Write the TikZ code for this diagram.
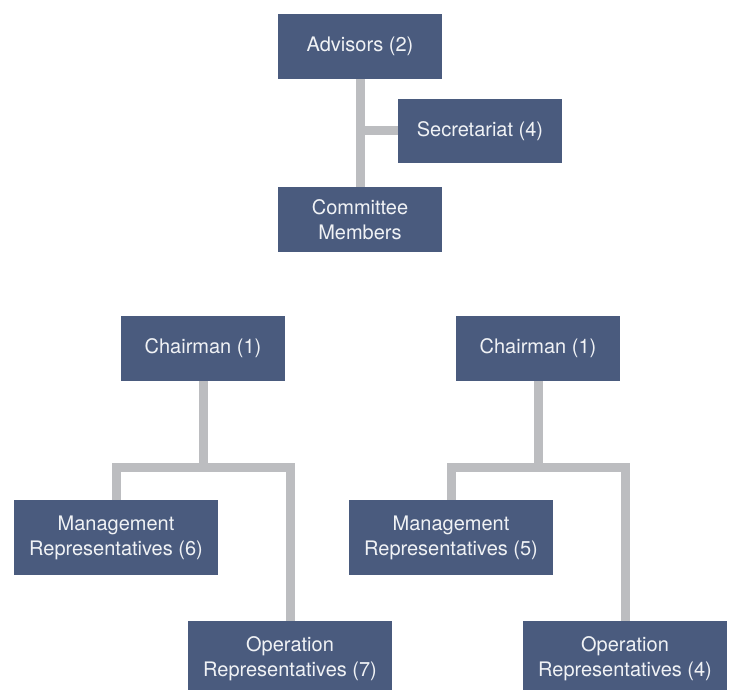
\documentclass[tikz,border=0pt]{standalone}
\usepackage{fontspec}
\setmainfont{TeX Gyre Heros}
\definecolor{boxblue}{RGB}{74,91,126}
\definecolor{linkgray}{RGB}{188,189,192}
\definecolor{boxtext}{RGB}{240,242,245}
\pgfdeclarelayer{back}
\pgfsetlayers{back,main}
\begin{document}
\begin{tikzpicture}[x=1pt,y=-1pt,
  unitbox/.style={rectangle, fill=boxblue, text=boxtext, inner sep=0pt,
    align=center, font=\fontsize{20}{25}\selectfont},
  smallbox/.style={unitbox, minimum width=164pt, minimum height=65pt},
  widebox/.style={unitbox, minimum width=204pt, minimum height=75pt},
  link/.style={draw=linkgray, line width=9pt}]
\useasboundingbox (0,0) rectangle (731,690);
\clip (0,0) rectangle (731,690);

% committee structure
\node[smallbox] (adv) at (360,46.5) {Advisors (2)};
\node[smallbox, minimum height=64pt] (sec) at (480,131) {Secretariat (4)};
\node[smallbox] (com) at (360,219.5) {Committee\\Members};

% left group
\node[smallbox] (chL) at (203,348.5) {Chairman (1)};
\node[widebox] (mgL) at (116,537.5) {Management\\Representatives (6)};
\node[widebox] (opL) at (290,658.5) {Operation\\Representatives (7)};

% right group
\node[smallbox] (chR) at (538,348.5) {Chairman (1)};
\node[widebox] (mgR) at (451,537.5) {Management\\Representatives (5)};
\node[widebox] (opR) at (625,658.5) {Operation\\Representatives (4)};

% branch points of the two lower trees
\coordinate (busL) at (203,467);
\coordinate (busR) at (538,467);
\coordinate (secjoin) at (360,131);

% connectors, kept behind the boxes
\begin{pgfonlayer}{back}
  \draw[link] (adv.south) -- (com.north);
  \draw[link] (secjoin) -- (sec.west);
  \draw[link] (chL.south) -- (busL);
  \draw[link] (mgL.north) |- (busL) -| (opL.north);
  \draw[link] (chR.south) -- (busR);
  \draw[link] (mgR.north) |- (busR) -| (opR.north);
\end{pgfonlayer}
\end{tikzpicture}
\end{document}
